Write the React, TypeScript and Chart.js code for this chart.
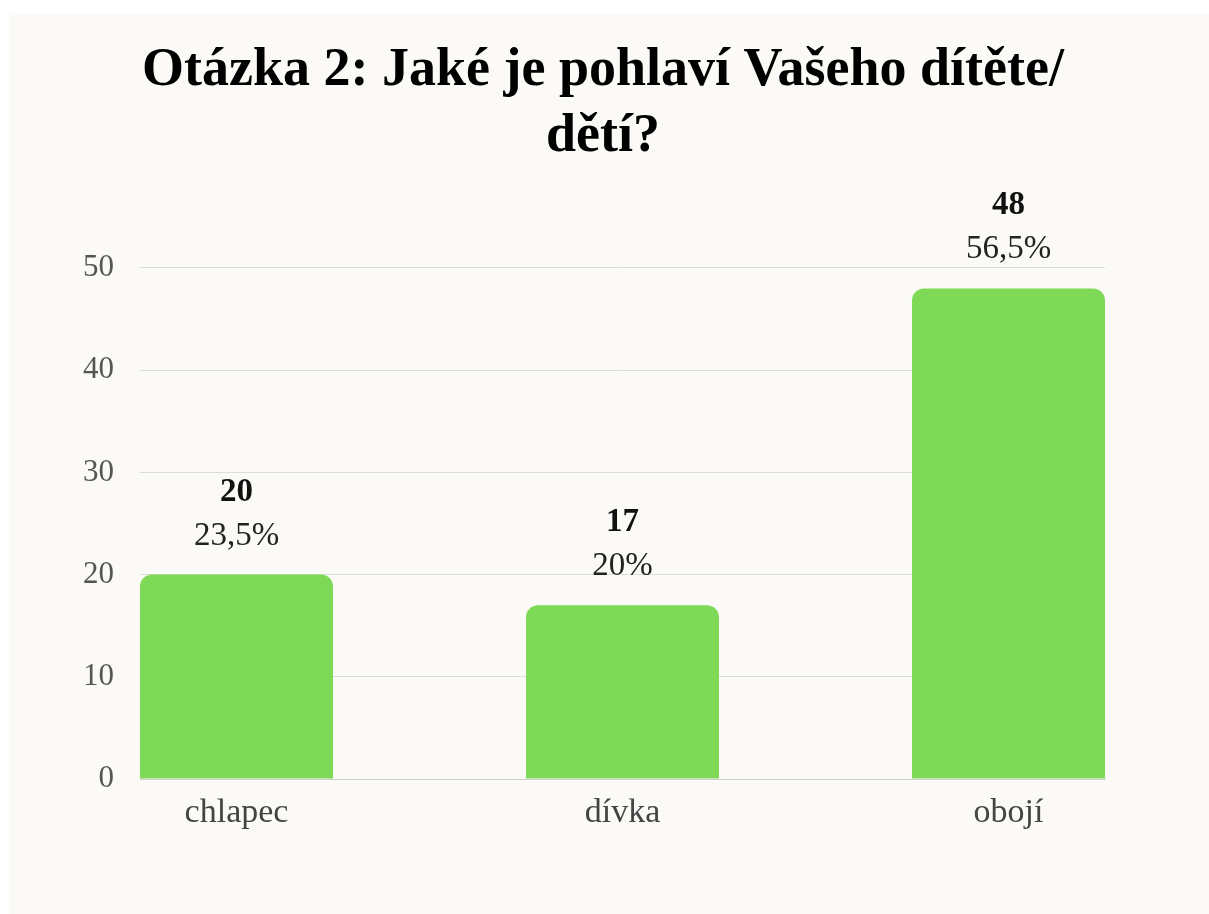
import React, { useEffect, useRef } from "react";
import { Chart, registerables } from "chart.js";

Chart.register(...registerables);

const titleLines = ["Otázka 2: Jaké je pohlaví Vašeho dítěte/", "dětí?"];
const categories = ["chlapec", "dívka", "obojí"];
const counts = [20, 17, 48];
const percentLabels = ["23,5%", "20%", "56,5%"];
const yTicks = [0, 10, 20, 30, 40, 50];

const SERIF = '"Liberation Serif", "Times New Roman", serif';

const barLabelsPlugin = {
  id: "barLabels",
  afterDatasetsDraw(chart: any) {
    const ctx = chart.ctx;
    const meta = chart.getDatasetMeta(0);
    meta.data.forEach((bar: any, i: number) => {
      ctx.save();
      ctx.textAlign = "center";
      ctx.textBaseline = "alphabetic";
      ctx.fillStyle = "#111111";
      ctx.font = `bold 33px ${SERIF}`;
      ctx.fillText(String(counts[i]), bar.x, bar.y - 74);
      ctx.fillStyle = "#222222";
      ctx.font = `33px ${SERIF}`;
      ctx.fillText(percentLabels[i], bar.x, bar.y - 30);
      ctx.restore();
    });
  },
};

export default function App() {
  const canvasRef = useRef<HTMLCanvasElement | null>(null);

  useEffect(() => {
    if (!canvasRef.current) return;
    const chart = new Chart(canvasRef.current, {
      type: "bar",
      data: {
        datasets: [
          {
            data: counts.map((v, i) => ({ x: i, y: v })),
            backgroundColor: "#7ed957",
            borderWidth: 0,
            borderRadius: { topLeft: 12, topRight: 12, bottomLeft: 0, bottomRight: 0 },
            borderSkipped: "bottom",
            barPercentage: 0.5,
            categoryPercentage: 1,
            yAxisID: "y",
          },
        ],
      },
      options: {
        animation: false,
        responsive: true,
        maintainAspectRatio: false,
        layout: { padding: { left: 0, right: 12, top: 0, bottom: 0 } },
        plugins: {
          legend: { display: false },
          tooltip: { enabled: false },
          title: {
            display: true,
            text: titleLines,
            color: "#000000",
            font: { family: SERIF, size: 54, weight: "bold", lineHeight: 1.222 },
            padding: { top: 25, bottom: 98 },
          },
        },
        scales: {
          x: {
            type: "linear",
            min: -0.25,
            max: 2.25,
            offset: false,
            afterBuildTicks: (scale: any) => {
              scale.ticks = categories.map((_, i) => ({ value: i }));
            },
            afterFit: (scale: any) => {
              scale.height = 135;
            },
            ticks: {
              callback: (v: any) => categories[v] ?? "",
              color: "#444444",
              font: { family: SERIF, size: 34 },
              padding: 14,
              maxRotation: 0,
              autoSkip: false,
            },
            grid: { display: false, drawTicks: false },
            border: { display: true, color: "#cfcfcf", width: 1 },
          },
          y: {
            min: 0,
            max: 50,
            afterBuildTicks: (scale: any) => {
              scale.ticks = yTicks.map((v) => ({ value: v }));
            },
            afterFit: (scale: any) => {
              scale.width = 131;
            },
            ticks: {
              color: "#555555",
              font: { family: SERIF, size: 31 },
              padding: 26,
            },
            grid: { color: "#dcdcdc", lineWidth: 1, drawTicks: false },
            border: { display: false },
          },
          yRight: {
            position: "right",
            min: 0,
            max: 50,
            afterFit: (scale: any) => {
              scale.width = 92;
            },
            ticks: { display: false },
            grid: { display: false, drawTicks: false },
            border: { display: false },
          },
        },
      },
      plugins: [barLabelsPlugin],
    } as any);
    return () => chart.destroy();
  }, []);

  return (
    <div
      style={{
        position: "fixed",
        left: 9,
        top: 13,
        width: 1200,
        height: 901,
        background: "#fcfaf6",
      }}
    >
      <canvas ref={canvasRef} />
    </div>
  );
}
